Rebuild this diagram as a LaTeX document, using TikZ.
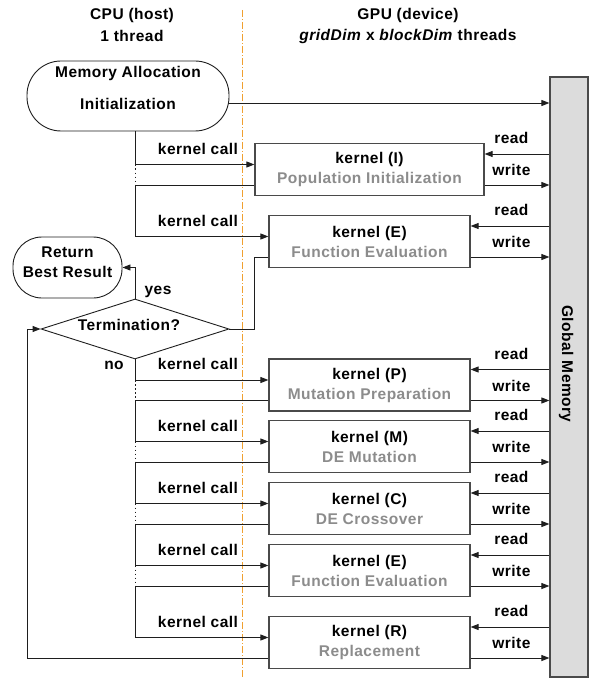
\documentclass[tikz,border=0pt]{standalone}
\usepackage{fontspec}
\setmainfont[LetterSpace=3]{Liberation Sans}
\usetikzlibrary{arrows.meta,shapes.geometric,calc}

\definecolor{lineC}{HTML}{1E1E1E}
\definecolor{boxC}{HTML}{4A4A4A}
\definecolor{subC}{HTML}{8C8C8C}
\definecolor{memC}{HTML}{DCDCDC}
\definecolor{sepC}{HTML}{F0A030}

\begin{document}
\begin{tikzpicture}[x=1pt,y=-1pt,
  font=\fontsize{15.5}{20}\selectfont\bfseries,
  conn/.style={draw=lineC, line width=0.9pt},
  arr/.style={conn, -{Triangle[length=8pt,width=6pt]}},
  dotconn/.style={draw=lineC, line width=0.9pt, dash pattern=on 1.5pt off 2.5pt},
  kbox/.style={draw=boxC, line width=1.2pt, fill=white, minimum width=201pt,
    minimum height=52pt, align=center, inner sep=0pt},
  term/.style={draw=lineC, line width=0.9pt, fill=white, inner sep=0pt},
  txt/.style={inner sep=0pt, align=center},
]
\useasboundingbox (0,0) rectangle (590,679);

% host / device separator
\draw[sepC, line width=0.9pt, dash pattern=on 7pt off 2pt on 1pt off 2pt] (242,10) -- (242,679);

% column headings
\node[txt] (cpuh) at (132,15) {CPU (host)};
\node[txt] (cpun) at (132,36) {1 thread};
\node[txt] (gpuh) at (408,15) {GPU (device)};
\node[txt] (gpun) at (408,36) {\textit{gridDim} x \textit{blockDim} threads};

% global memory bar
\node[draw=boxC, fill=memC, line width=1.2pt, minimum width=38pt,
  minimum height=600pt, inner sep=0pt] (mem) at (569,377) {};
\node[txt, rotate=-90] (memlab) at (566,364) {Global Memory};

% host side terminators and decision
\node[term, rounded corners=34pt, minimum width=202pt, minimum height=70pt] (alloc) at (128,96) {};
\node[txt] (alloc1) at (128,73) {Memory Allocation};
\node[txt] (alloc2) at (128,104) {Initialization};
\coordinate (alloc-o) at ([yshift=-7pt]alloc.east);

\node[term, rounded corners=29pt, minimum width=109pt, minimum height=61pt] (ret) at (67.5,267.5) {};
\node[txt] (ret1) at (67.5,252) {Return};
\node[txt] (ret2) at (67.5,272) {Best Result};

\node[term, diamond, aspect=3.13, minimum width=188pt, minimum height=60pt] (term) at (135,329) {};
\node[txt] (termlab) at (129,325) {Termination?};
\node[txt] (yes) at (158,292) {yes};
\node[txt] (no) at (114,365) {no};

% kernels
\node[kbox, minimum width=229pt] (kI) at (369.5,169.5) {kernel (I)\\\textcolor{subC}{Population Initialization}};
\node[kbox] (kE) at (369.5,241.5) {kernel (E)\\\textcolor{subC}{Function Evaluation}};
\node[kbox] (kP) at (369.5,385) {kernel (P)\\\textcolor{subC}{Mutation Preparation}};
\node[kbox] (kM) at (369.5,446.5) {kernel (M)\\\textcolor{subC}{DE Mutation}};
\node[kbox] (kC) at (369.5,508.5) {kernel (C)\\\textcolor{subC}{DE Crossover}};
\node[kbox] (kF) at (369.5,570.5) {kernel (E)\\\textcolor{subC}{Function Evaluation}};
\node[kbox] (kR) at (369.5,642.5) {kernel (R)\\\textcolor{subC}{Replacement}};

% host trunk and loop-back lane
\coordinate (t) at (135,0);
\coordinate (lp) at (27,0);

% call / return points, memory traffic and labels
\foreach \n in {kI,kE,kP,kM,kC,kF,kR}{
  \coordinate (\n-c) at ([yshift=5pt]\n.west);
  \coordinate (\n-o) at ([yshift=-15.5pt]\n.west);
  \coordinate (\n-r) at ([yshift=15.5pt]\n.east);
  \coordinate (\n-w) at ([yshift=-15.5pt]\n.east);
  \draw[arr] (mem.west |- \n-r) -- (\n-r);
  \draw[arr] (\n-w) -- (mem.west |- \n-w);
  \node[txt] (\n-rl) at ($(mem.west |- \n-r)+(-38pt,16pt)$) {read};
  \node[txt] (\n-wl) at ($(mem.west |- \n-w)+(-38pt,15pt)$) {write};
  \node[txt] (\n-kl) at ($(t |- \n-c)+(63pt,16pt)$) {kernel call};
}

% allocation to memory
\draw[arr] (alloc-o) -- (mem.west |- alloc-o);

% kernel launches
\draw[arr] (alloc.south -| t) |- (kI-c);
\draw[dotconn] (t |- kI-c) -- (t |- kI-o);
\draw[arr] (kI-o) -- (t |- kI-o) -- (t |- kE-c) -- (kE-c);
\draw[conn] (kE-o) -- ++(-14pt,0) |- (term.east);
\draw[arr] (term.north) |- (ret.east);
\draw[arr] (term.south) |- (kP-c);
\foreach \a/\b in {kP/kM,kM/kC,kC/kF,kF/kR}{
  \draw[dotconn] (t |- \a-c) -- (t |- \a-o);
  \draw[arr] (\a-o) -- (t |- \a-o) -- (t |- \b-c) -- (\b-c);
}
\draw[arr] (kR-o) -- (lp |- kR-o) -- (lp |- term.west) -- (term.west);
\end{tikzpicture}
\end{document}
